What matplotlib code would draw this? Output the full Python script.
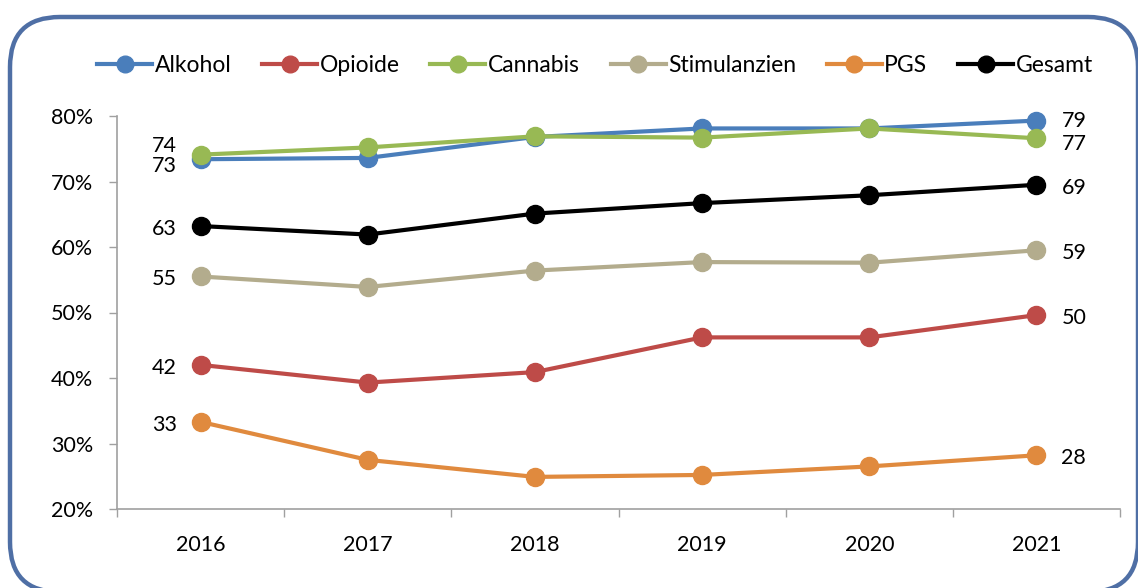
import matplotlib
matplotlib.use("Agg")
import matplotlib.pyplot as plt
from matplotlib.patches import FancyBboxPatch
from matplotlib.lines import Line2D

plt.rcParams['font.family'] = ['Lato', 'DejaVu Sans']

years = ["2016", "2017", "2018", "2019", "2020", "2021"]
series_names = ["Alkohol", "Opioide", "Cannabis", "Stimulanzien", "PGS", "Gesamt"]
alkohol = [73.4, 73.6, 76.8, 78.1, 78.1, 79.3]
opioide = [42.0, 39.3, 40.9, 46.2, 46.2, 49.6]
cannabis = [74.1, 75.2, 76.9, 76.7, 78.1, 76.6]
stimulanzien = [55.5, 53.9, 56.4, 57.7, 57.6, 59.5]
pgs = [33.3, 27.5, 24.9, 25.2, 26.5, 28.2]
gesamt = [63.2, 61.9, 65.1, 66.7, 67.9, 69.5]
first_labels = ["73", "42", "74", "55", "33", "63"]
last_labels = ["79", "50", "77", "59", "28", "69"]
yticks = [20, 30, 40, 50, 60, 70, 80]

colors = ["#4A7EBB", "#BE4B48", "#98B954", "#B3AC8D", "#E08A3E", "#000000"]
data = [alkohol, opioide, cannabis, stimulanzien, pgs, gesamt]

W, H = 1138, 588
fig = plt.figure(figsize=(W / 100, H / 100), dpi=100)

# background frame
bg = fig.add_axes([0, 0, 1, 1], zorder=0)
bg.set_xlim(0, W)
bg.set_ylim(H, 0)
bg.axis('off')
bg.add_patch(FancyBboxPatch((10, 17), 1128, 575,
                            boxstyle="round,pad=0,rounding_size=50",
                            facecolor='white', edgecolor='#4F6FA5', linewidth=3.2))

ax = fig.add_axes([117 / W, 1 - 509 / H, (1120 - 117) / W, (509 - 116) / H], zorder=1)
ax.patch.set_alpha(0)
x = list(range(len(years)))
for name, vals, c in zip(series_names, data, colors):
    ax.plot(x, vals, color=c, lw=3, marker='o', markersize=13, label=name,
            solid_capstyle='round', clip_on=False)

# data labels
offs_first = {"Alkohol": 3, "Cannabis": -8}
offs_last = {"Alkohol": -2, "Cannabis": 2}
fs = 15.5
for name, vals, fl, ll in zip(series_names, data, first_labels, last_labels):
    ax.annotate(fl, (0, vals[0]), xytext=(-17, -offs_first.get(name, 0) - 2),
                textcoords='offset points', ha='right', va='center', fontsize=fs)
    ax.annotate(ll, (5, vals[-1]), xytext=(18, -offs_last.get(name, 0) - 2),
                textcoords='offset points', ha='left', va='center', fontsize=fs)

ax.set_xlim(-0.5, 5.5)
ax.set_ylim(20, 80)
ax.set_yticks(yticks)
ax.set_yticklabels([f"{v}%" for v in yticks], fontsize=fs)
ax.set_xticks(x)
ax.set_xticklabels(years, fontsize=fs)
ax.set_xticks([i - 0.5 for i in range(len(years) + 1)], minor=True)
ax.tick_params(axis='x', which='major', length=0, pad=19)
ax.tick_params(axis='x', which='minor', length=6, color='#A0A0A0', width=1)
ax.tick_params(axis='y', length=6, color='#A0A0A0', width=1, pad=11)
for s in ['top', 'right']:
    ax.spines[s].set_visible(False)
for s in ['left', 'bottom']:
    ax.spines[s].set_color('#A0A0A0')
    ax.spines[s].set_linewidth(1.2)

handles = [Line2D([0], [0], color=c, lw=3, marker='o', markersize=12) for c in colors]
fig.legend(handles, series_names, loc='center', bbox_to_anchor=(595 / W, 1 - 66 / H),
           ncol=6, frameon=False, fontsize=16.5, handlelength=2.4, handletextpad=0.1,
           columnspacing=1.35)

fig.savefig("out.png", dpi=100)
